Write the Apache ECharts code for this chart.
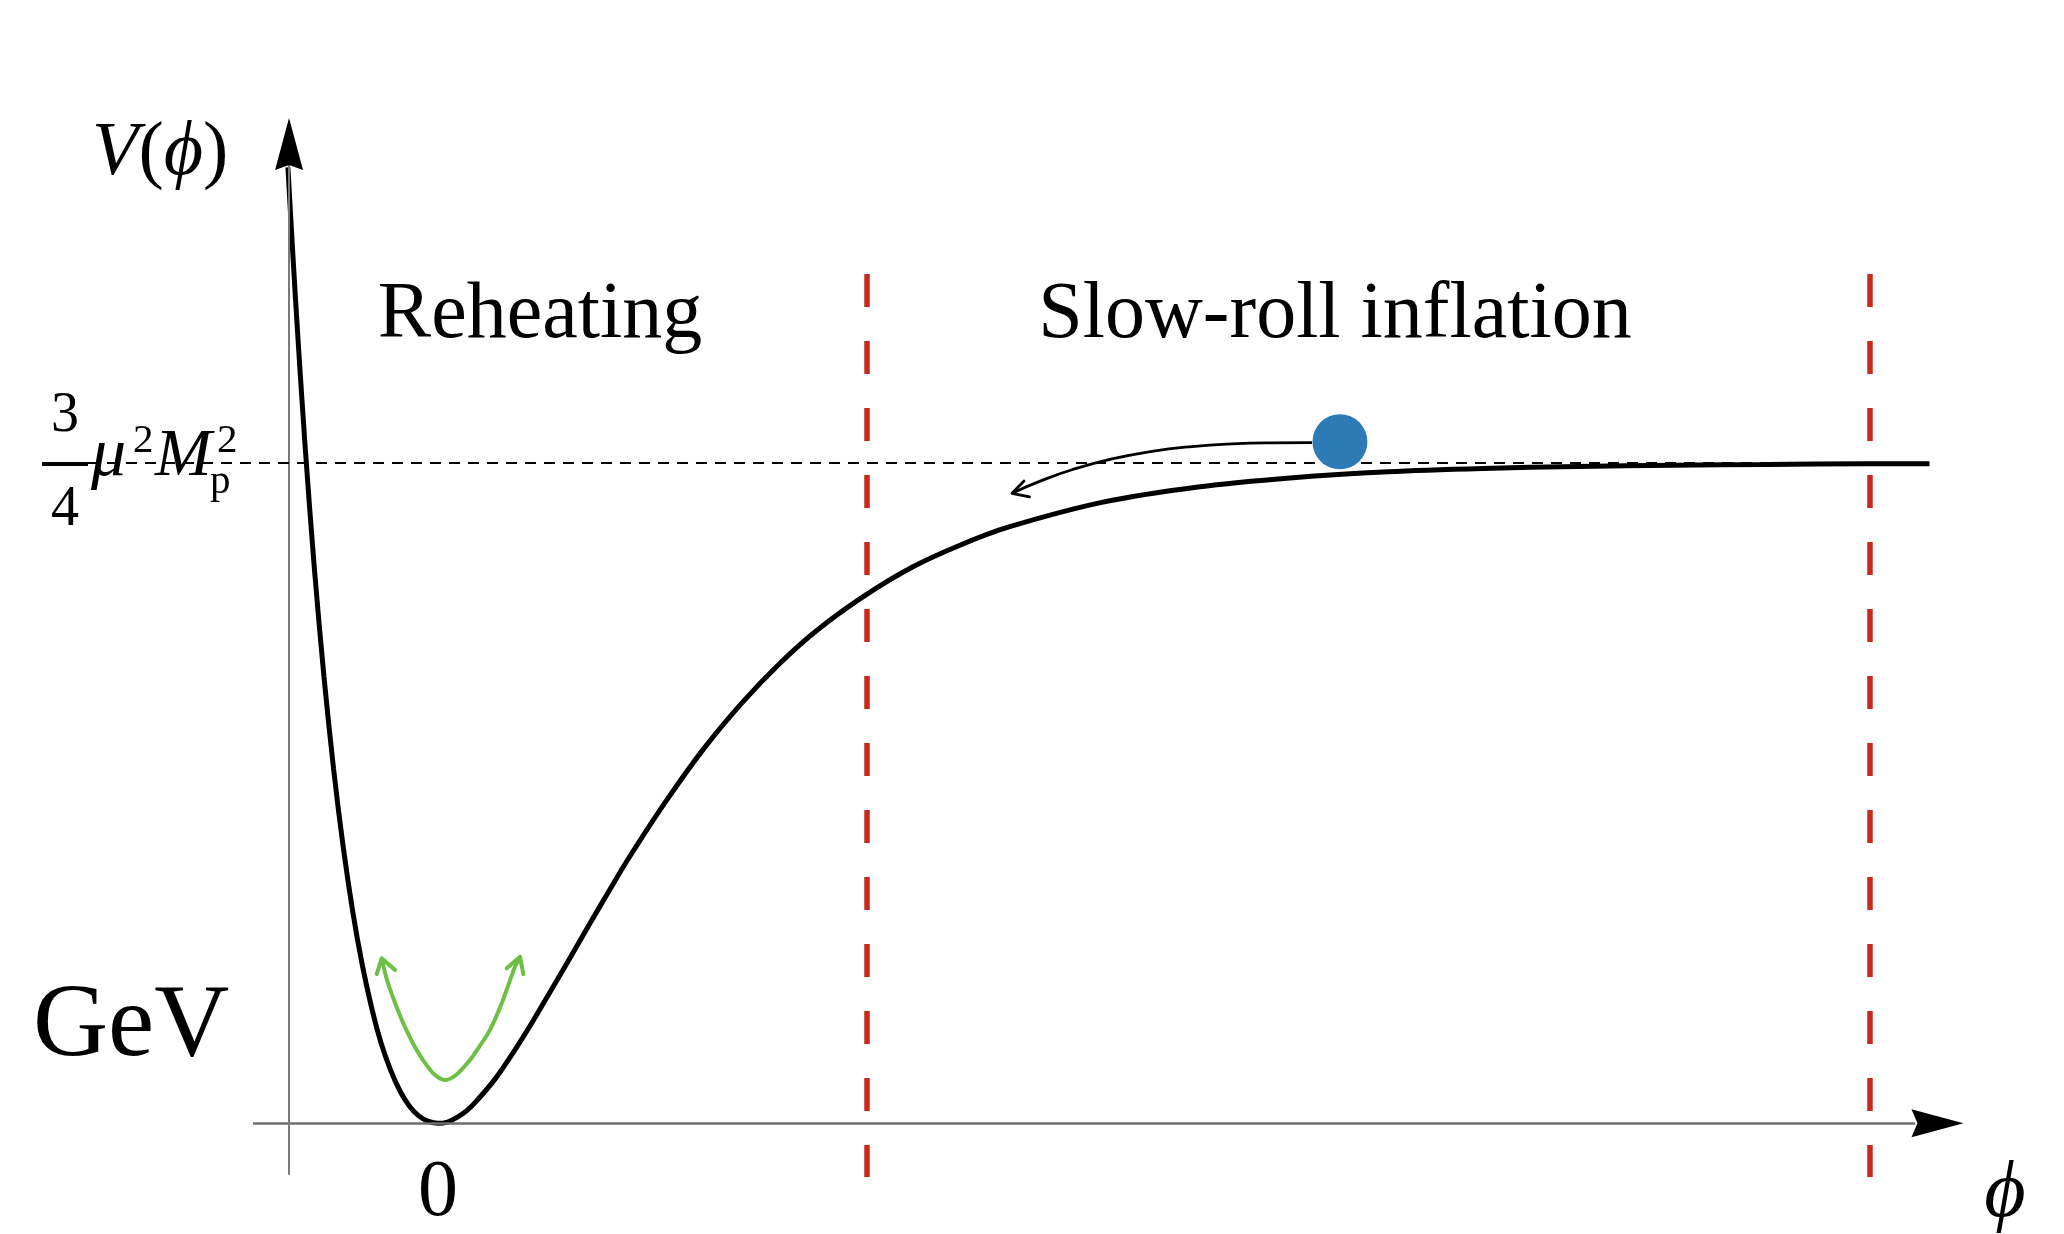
<!DOCTYPE html>
<html>
<head>
<meta charset="utf-8">
<title>Inflaton potential</title>
<script src="https://cdn.jsdelivr.net/npm/echarts@6/dist/echarts.min.js"></script>
<style>
  html, body { margin: 0; padding: 0; background: #fff; }
  #chart { width: 2064px; height: 1234px; }
</style>
</head>
<body>
<div id="chart"></div>
<script>
// Potential V(phi), normalised so the plateau sits at V = 1
const phiValues = [-0.79, -0.75, -0.7, -0.65, -0.6, -0.55, -0.5, -0.45, -0.4, -0.35, -0.3, -0.25, -0.2, -0.15, -0.1, -0.05,
  0, 0.05, 0.1, 0.15, 0.2, 0.3, 0.4, 0.5, 0.6, 0.7, 0.8, 0.9, 1.0, 1.2, 1.4, 1.6, 1.8, 2.0, 2.25, 2.5, 2.75, 3.0,
  3.5, 4.0, 4.5, 5.0, 5.5, 6.0, 6.5, 7.0, 7.5, 7.85];
const potential = [1.448, 1.248, 1.028, 0.838, 0.676, 0.538, 0.421, 0.323, 0.242, 0.176, 0.122, 0.081, 0.049, 0.026, 0.011, 0.003,
  0, 0.002, 0.009, 0.019, 0.033, 0.067, 0.109, 0.155, 0.204, 0.253, 0.303, 0.352, 0.400, 0.488, 0.568, 0.637, 0.697, 0.748, 0.800, 0.843, 0.876, 0.903,
  0.941, 0.964, 0.978, 0.987, 0.992, 0.995, 0.997, 0.998, 0.999, 0.999];

// Plateau level (3/4 mu^2 Mp^2) and the region boundaries
const plateauLevel = 1;
const plateauSpan = [-1.842, 7.853];
const regionBounds = [2.256, 7.537];
const boundSpan = [1.2864, -0.0813];

// Oscillation arrow around the minimum
const oscPhi = [-0.2963, -0.2684, -0.2316, -0.1947, -0.1579, -0.1211, -0.0789, -0.0211, 0.0368, 0.0947,
  0.1684, 0.2158, 0.2632, 0.3053, 0.3421, 0.3737, 0.4053, 0.4316];
const oscV = [0.2499, 0.2171, 0.1868, 0.1595, 0.1363, 0.1156, 0.0959, 0.0747, 0.0656, 0.0732,
  0.0959, 0.1156, 0.1363, 0.1610, 0.1868, 0.2125, 0.2372, 0.2524];
const oscHeadLeftPhi = [-0.3226, -0.2963, -0.226];
const oscHeadLeftV = [0.2261, 0.2499, 0.2322];
const oscHeadRightPhi = [0.3616, 0.4316, 0.449];
const oscHeadRightV = [0.2348, 0.2524, 0.2261];

// Rolling field: ball position and its path
const ball = [4.747, 1.0324];
const rollPhi = [4.6, 4.3895, 4.1789, 3.9684, 3.7579, 3.5474, 3.3368, 3.1789, 3.0211];
const rollV = [1.0311, 1.0308, 1.0292, 1.0251, 1.0179, 1.0064, 0.9900, 0.9739, 0.9544];
const rollHeadPhi = [3.0842, 3.0211, 3.1132];
const rollHeadV = [0.9730, 0.9544, 0.9488];

// Axis extents
const phiAxis = [-0.974, 7.774];
const vAxisPhi = -0.784;
const vAxisSpan = [-0.078, 1.4515];
const phiTicks = [0];

const zip = (a, b) => a.map((v, i) => [v, b[i]]);

const red = '#c9281a';
const green = '#6dbf45';
const serif = '"Liberation Serif", "Times New Roman", serif';

function txt(x, y, s, font, align) {
  return {
    type: 'text', x: x, y: y, silent: true,
    style: { text: s, font: font, fill: '#000', align: align || 'left', verticalAlign: 'middle' }
  };
}

const chart = echarts.init(document.getElementById('chart'), null, { renderer: 'canvas' });

chart.setOption({
  animation: false,
  backgroundColor: '#fff',
  grid: { left: 20, right: 30, top: 1, bottom: 5, containLabel: false, outerBoundsMode: 'none' },
  xAxis: {
    type: 'value', min: -2.2, max: 8.4,
    // the phi axis sits at V = 0, above the bottom edge of the plotting area
    offset: -105.6,
    axisLine: { show: false, onZero: false },
    axisTick: { show: false },
    splitLine: { show: false },
    axisLabel: {
      customValues: phiTicks, margin: 31,
      fontFamily: 'Liberation Serif', fontSize: 80, color: '#000'
    }
  },
  yAxis: {
    type: 'value', min: -0.16, max: 1.70,
    axisLine: { show: false },
    axisTick: { show: false },
    splitLine: { show: false },
    axisLabel: { show: false }
  },
  series: [
    {
      type: 'line', name: 'V', data: zip(phiValues, potential),
      symbol: 'none', smooth: 0.3, z: 4,
      lineStyle: { color: '#000', width: 5 },
      markLine: {
        silent: true, symbol: ['none', 'none'], label: { show: false },
        data: [
          [{ coord: [phiAxis[0], 0], lineStyle: { color: '#6e6e6e', width: 2.5, type: 'solid' } }, { coord: [phiAxis[1], 0] }],
          [{ coord: [vAxisPhi, vAxisSpan[0]], lineStyle: { color: '#7a7a7a', width: 2, type: 'solid' } }, { coord: [vAxisPhi, vAxisSpan[1]] }],
          [{ coord: [plateauSpan[0], plateauLevel], lineStyle: { color: '#000', width: 2, type: [11, 8] } }, { coord: [plateauSpan[1], plateauLevel] }],
          [{ coord: [regionBounds[0], boundSpan[0]], lineStyle: { color: red, width: 5.5, type: [33, 34], cap: 'butt' } }, { coord: [regionBounds[0], boundSpan[1]] }],
          [{ coord: [regionBounds[1], boundSpan[0]], lineStyle: { color: red, width: 5.5, type: [33, 34], cap: 'butt' } }, { coord: [regionBounds[1], boundSpan[1]] }]
        ]
      },
      markPoint: {
        silent: true, label: { show: false },
        itemStyle: { color: '#000' },
        data: [
          { coord: [vAxisPhi, 1.4833], symbol: 'path://M14,0 L28,52 L14,47 L0,52 Z', symbolSize: [28, 52] },
          { coord: [7.892, 0], symbol: 'path://M52,14 L0,0 L6,14 L0,28 Z', symbolSize: [52, 28] }
        ]
      }
    },
    {
      type: 'line', data: zip(oscPhi, oscV), symbol: 'none', smooth: 0.3, z: 5,
      lineStyle: { color: green, width: 4 }
    },
    {
      type: 'line', data: zip(oscHeadLeftPhi, oscHeadLeftV), symbol: 'none', z: 5,
      lineStyle: { color: green, width: 4, cap: 'round', join: 'round' }
    },
    {
      type: 'line', data: zip(oscHeadRightPhi, oscHeadRightV), symbol: 'none', z: 5,
      lineStyle: { color: green, width: 4, cap: 'round', join: 'round' }
    },
    {
      type: 'line', data: zip(rollPhi, rollV), symbol: 'none', smooth: 0.5, z: 5,
      lineStyle: { color: '#000', width: 2.8 }
    },
    {
      type: 'line', data: zip(rollHeadPhi, rollHeadV), symbol: 'none', z: 5,
      lineStyle: { color: '#000', width: 2.8, cap: 'round', join: 'round' }
    },
    {
      type: 'scatter', data: [ball], symbolSize: 55, z: 10,
      itemStyle: { color: '#2d7bb6', opacity: 1 }
    }
  ],
  graphic: [
    {
      type: 'text', x: 92, y: 154, silent: true,
      style: {
        text: '{i|V}{u|(}{i|ϕ}{u|)}', verticalAlign: 'middle', fill: '#000',
        rich: {
          i: { font: 'italic 76px ' + serif },
          u: { font: '76px ' + serif }
        }
      }
    },
    txt(540, 316, 'Reheating', '80px ' + serif, 'center'),
    txt(1335, 316, 'Slow-roll inflation', '80px ' + serif, 'center'),
    txt(33, 1028, 'GeV', '104px ' + serif),
    txt(2005, 1195, 'ϕ', 'italic 80px ' + serif, 'center'),
    // 3/4 mu^2 M_p^2
    txt(65, 416, '3', '56px ' + serif, 'center'),
    { type: 'line', silent: true, shape: { x1: 42, y1: 464, x2: 88, y2: 464 }, style: { stroke: '#000', lineWidth: 4 } },
    txt(65, 510, '4', '56px ' + serif, 'center'),
    txt(91, 457, 'μ', 'italic 70px ' + serif),
    txt(133, 441, '2', '41px ' + serif),
    txt(155, 457, 'M', 'italic 68px ' + serif),
    txt(217, 441, '2', '41px ' + serif),
    txt(210, 482, 'p', '41px ' + serif)
  ]
});
</script>
</body>
</html>
